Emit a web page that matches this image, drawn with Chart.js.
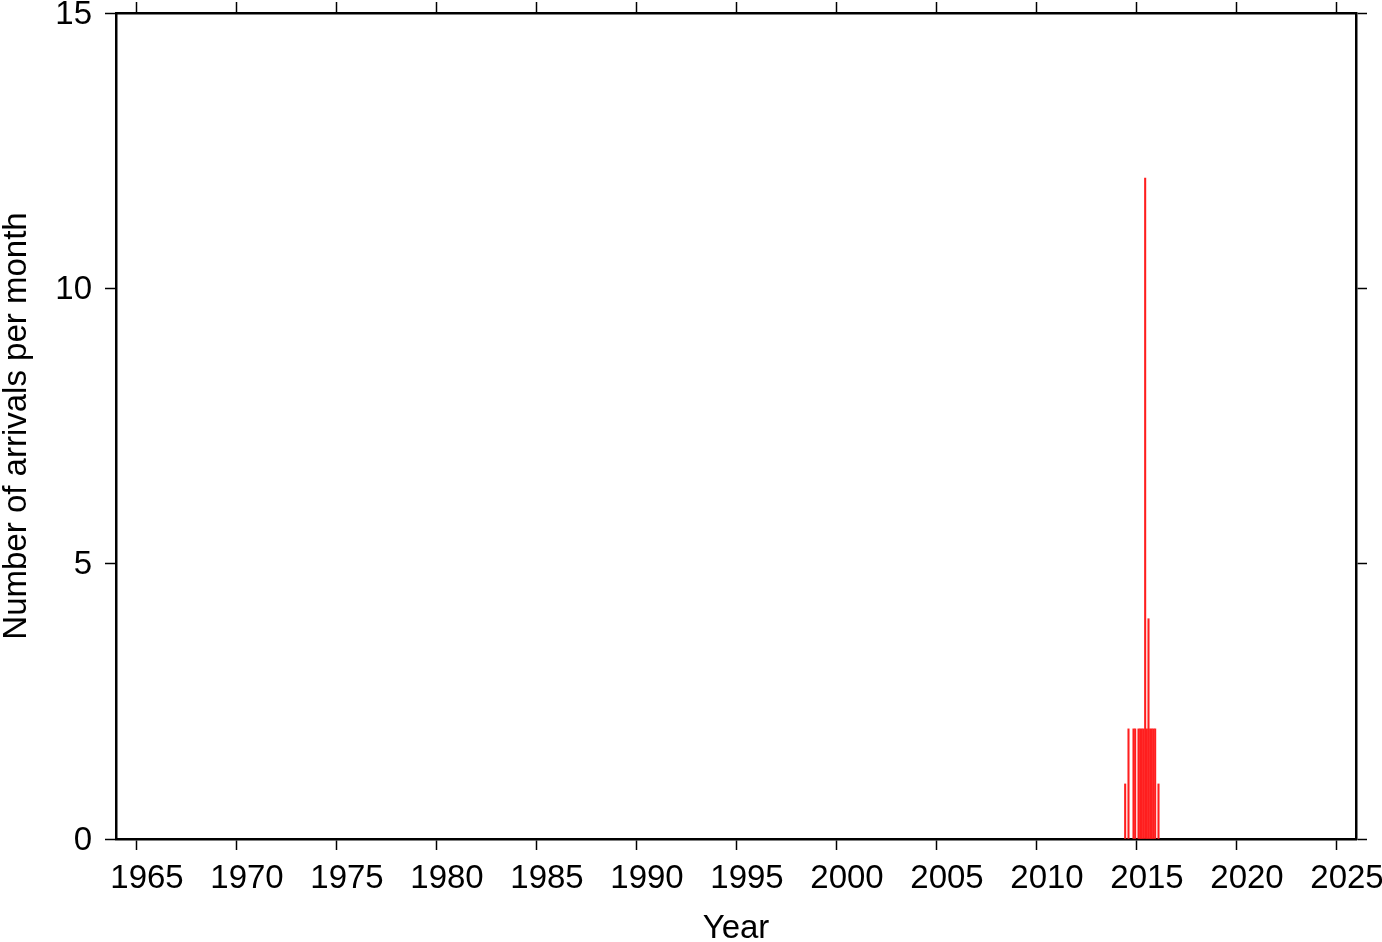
<!DOCTYPE html>
<html>
<head>
<meta charset="utf-8">
<title>Arrivals per month</title>
<script src="https://cdn.jsdelivr.net/npm/chart.js@4"></script>
<style>
  html, body { margin: 0; padding: 0; background: #fff; }
  canvas { display: block; }
</style>
</head>
<body>
<canvas id="arrivalsChart" width="1382" height="942"></canvas>
<script>
// monthly counts (only non-zero months)
const arrivalMonths = ['2014-06', '2014-08', '2014-11', '2014-12', '2015-02', '2015-03', '2015-04', '2015-05',
    '2015-06', '2015-07', '2015-08', '2015-09', '2015-10', '2015-11', '2015-12', '2016-02'];
const arrivalCounts = [1, 2, 2, 2, 2, 2, 2, 2, 12, 2, 4, 2, 2, 2, 2, 1];
const yearTicks = [1965, 1970, 1975, 1980, 1985, 1990, 1995, 2000, 2005, 2010, 2015, 2020, 2025];
const countTicks = [0, 5, 10, 15];

const FONT = 'Liberation Sans, Arial, Helvetica, sans-serif';

// month string -> decimal year at middle of the month
function monthToYear(m) {
    const parts = m.split('-');
    return Number(parts[0]) + (Number(parts[1]) - 0.5) / 12;
}

const points = arrivalMonths.map(function (m, i) {
    return { x: monthToYear(m), y: arrivalCounts[i] };
});

function keepTicks(list) {
    return function (scale) {
        scale.ticks = list.map(function (v) { return { value: v }; });
    };
}

// fixed box sizes so the plot frame lands where the original has it
function fixSize(w, h) {
    return function (s) {
        if (w !== null) s.width = w;
        if (h !== null) s.height = h;
        s.paddingTop = 0;
        s.paddingBottom = 0;
        s.paddingLeft = 0;
        s.paddingRight = 0;
    };
}

const gridOpts = {
    drawOnChartArea: false,
    drawTicks: true,
    tickLength: 11,
    tickWidth: 1.5,
    tickColor: '#000',
    color: '#000'
};
const borderOpts = { display: true, color: '#000', width: 2.5 };
const plainLabel = function (v) { return String(v); };

new Chart(document.getElementById('arrivalsChart').getContext('2d'), {
    type: 'bar',
    data: {
        datasets: [{
            data: points,
            backgroundColor: 'rgb(255, 30, 30)',
            borderWidth: 0,
            barThickness: 1.4
        }]
    },
    options: {
        responsive: false,
        animation: false,
        layout: { padding: { top: 2, right: 15, left: 0, bottom: 0 } },
        plugins: {
            legend: { display: false },
            tooltip: { enabled: false }
        },
        scales: {
            x: {
                type: 'linear',
                position: 'bottom',
                min: 1964,
                max: 2026,
                offset: false,
                afterBuildTicks: keepTicks(yearTicks),
                afterFit: fixSize(null, 103),
                grid: Object.assign({ offset: false }, gridOpts),
                border: borderOpts,
                ticks: {
                    color: '#000',
                    padding: 9,
                    labelOffset: 11,
                    maxRotation: 0,
                    autoSkip: false,
                    callback: plainLabel,
                    font: { family: FONT, size: 33 }
                },
                title: {
                    display: true,
                    text: 'Year',
                    color: '#000',
                    padding: { top: 0, bottom: -3 },
                    font: { family: FONT, size: 33, lineHeight: 1 }
                }
            },
            xTop: {
                type: 'linear',
                position: 'top',
                min: 1964,
                max: 2026,
                offset: false,
                afterBuildTicks: keepTicks(yearTicks),
                afterFit: fixSize(null, 11),
                grid: Object.assign({ offset: false }, gridOpts),
                border: borderOpts,
                ticks: { display: false }
            },
            y: {
                type: 'linear',
                position: 'left',
                min: 0,
                max: 15,
                afterBuildTicks: keepTicks(countTicks),
                afterFit: fixSize(116, null),
                grid: gridOpts,
                border: borderOpts,
                ticks: {
                    color: '#000',
                    padding: 13,
                    labelOffset: 1.5,
                    callback: plainLabel,
                    font: { family: FONT, size: 33 }
                },
                title: {
                    display: true,
                    text: 'Number of arrivals per month',
                    color: '#000',
                    padding: 0,
                    font: { family: FONT, size: 33, lineHeight: 1 }
                }
            },
            yRight: {
                type: 'linear',
                position: 'right',
                min: 0,
                max: 15,
                afterBuildTicks: keepTicks(countTicks),
                afterFit: fixSize(11, null),
                grid: gridOpts,
                border: borderOpts,
                ticks: { display: false }
            }
        }
    }
});
</script>
</body>
</html>
